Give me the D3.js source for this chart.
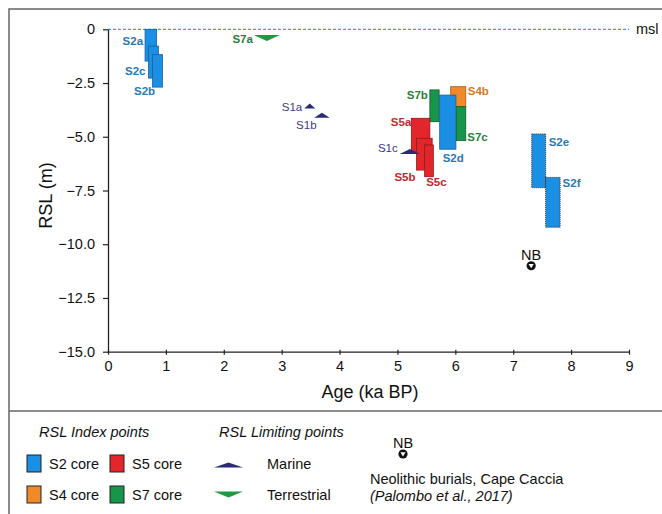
<!DOCTYPE html>
<html>
<head>
<meta charset="utf-8">
<script src="https://cdn.jsdelivr.net/npm/d3@7"></script>
<style>
  html, body { margin: 0; padding: 0; background: #fff; }
  svg { display: block; font-family: "Liberation Sans", Arial, sans-serif; }
</style>
</head>
<body>
<svg id="chart" width="662" height="514"></svg>
<script>
// ---------------- DATA ----------------
// RSL index points (boxes): age range (ka BP) and RSL range (m)
const boxIds       = ["S2a", "S2c", "S2b", "S7b", "S4b", "S2d", "S7c", "S5a", "S5b", "S5c", "S2e", "S2f"];
const boxCores     = ["S2",  "S2",  "S2",  "S7",  "S4",  "S2",  "S7",  "S5",  "S5",  "S5",  "S2",  "S2"];
const boxAgeMin    = [0.64, 0.70, 0.77, 5.56, 5.92, 5.73, 6.02, 5.24, 5.33, 5.47, 7.32, 7.56];
const boxAgeMax    = [0.84, 0.87, 0.94, 5.72, 6.18, 6.01, 6.18, 5.56, 5.60, 5.62, 7.56, 7.81];
const boxRslTop    = [0.00, -0.78, -1.18, -2.82, -2.67, -3.06, -3.60, -4.14, -5.07, -5.38, -4.87, -6.89];
const boxRslBottom = [-1.48, -2.27, -2.69, -4.30, -3.60, -5.58, -5.18, -5.70, -6.55, -6.86, -7.37, -9.21];

// RSL limiting points (triangles)
const limIds    = ["S7a", "S1a", "S1b", "S1c"];
const limTypes  = ["Terrestrial", "Marine", "Marine", "Marine"];
const limAgeMin = [2.52, 3.39, 3.56, 5.04];
const limAgeMax = [2.97, 3.58, 3.83, 5.39];
const limRsl    = [-0.27, -3.68, -4.11, -5.80];

// Neolithic burials, Cape Caccia
const nbAge = [7.31];
const nbRsl = [-11.0];

// Axis ticks
const xTicks = [0, 1, 2, 3, 4, 5, 6, 7, 8, 9];
const yTicks = [0, -2.5, -5.0, -7.5, -10.0, -12.5, -15.0];

// Legend entries
const legendCores = ["S2", "S5", "S4", "S7"];
const legendCoreLabels = ["S2 core", "S5 core", "S4 core", "S7 core"];
const legendLimTypes = ["Marine", "Terrestrial"];

// ---------------- STYLE ----------------
const coreFill   = { S2: "#1a8fe3", S4: "#f0892a", S5: "#e3262b", S7: "#17954a" };
const coreStroke = { S2: "#1b5f9a", S4: "#a85a15", S5: "#8a1a1a", S7: "#0f5e2c" };
const coreText   = { S2: "#2a78b4", S4: "#d77a24", S5: "#c3282d", S7: "#27803c", S1: "#3a3a86" };
const limFill    = { Marine: "#2b2a78", Terrestrial: "#1c9a42" };
const dottedBoxes = new Set(["S2e", "S2f"]);

// label placement relative to the box / triangle (pixel offsets)
const labelLayout = {
  S2a: { xr: "x0", dx: -2,  yr: "y0", dy: 12,  anchor: "end" },
  S2c: { xr: "x0", dx: -3,  yr: "y0", dy: 25,  anchor: "end" },
  S2b: { xr: "x0", dx: 2.5, yr: "y1", dy: 3.5, anchor: "end" },
  S7b: { xr: "x0", dx: -2,  yr: "y0", dy: 5,   anchor: "end" },
  S4b: { xr: "x1", dx: 2,   yr: "y0", dy: 4.5, anchor: "start" },
  S2d: { xr: "x0", dx: 3,   yr: "y1", dy: 9,   anchor: "start" },
  S7c: { xr: "x1", dx: 1.5, yr: "y1", dy: -4,  anchor: "start" },
  S5a: { xr: "x0", dx: 0,   yr: "y0", dy: 4,   anchor: "end" },
  S5b: { xr: "x0", dx: -1,  yr: "y1", dy: 7,   anchor: "end" },
  S5c: { xr: "x0", dx: 1.5, yr: "y1", dy: 5,   anchor: "start" },
  S2e: { xr: "x1", dx: 3,   yr: "y0", dy: 8,   anchor: "start" },
  S2f: { xr: "x1", dx: 2.5, yr: "y0", dy: 6,   anchor: "start" },
  S7a: { xr: "x0", dx: -1,  yr: "y",  dy: 4,   anchor: "end" },
  S1a: { xr: "x0", dx: -2,  yr: "y",  dy: -1.5, anchor: "end" },
  S1b: { xr: "x0", dx: 2.5, yr: "y",  dy: 7,   anchor: "end" },
  S1c: { xr: "x0", dx: -2,  yr: "y",  dy: -5.5, anchor: "end" }
};

// ---------------- CHART ----------------
const svg = d3.select("#chart");

// outer frame
svg.append("path")
  .attr("d", "M9,514 V9 H662")
  .attr("fill", "none").attr("stroke", "#666").attr("stroke-width", 1.5);
svg.append("line")
  .attr("x1", 9).attr("x2", 662).attr("y1", 411).attr("y2", 411)
  .attr("stroke", "#666").attr("stroke-width", 1.5);

const x = d3.scaleLinear().domain([0, 9]).range([108, 629]);
const y = d3.scaleLinear().domain([0, -15]).range([29.3, 351.7]);

// msl line
svg.append("line")
  .attr("x1", x(0)).attr("x2", x(9)).attr("y1", y(0)).attr("y2", y(0))
  .attr("stroke", "#3a9ee0").attr("stroke-width", 1.2).attr("stroke-dasharray", "3,2");
svg.append("text")
  .attr("x", 636).attr("y", y(0)).attr("dy", "0.35em")
  .attr("font-size", 14.5).attr("fill", "#111").text("msl");

// axes
const xAxis = d3.axisBottom(x).tickValues(xTicks).tickFormat(d3.format("d")).tickSizeInner(4).tickSizeOuter(0).tickPadding(5);
const yAxis = d3.axisLeft(y).tickValues(yTicks).tickFormat(d => d === 0 ? "0" : d3.format(".1f")(d)).tickSizeInner(5).tickSizeOuter(0).tickPadding(8);

const gx = svg.append("g").attr("transform", `translate(0,${y(-15)})`).call(xAxis);
const gy = svg.append("g").attr("transform", `translate(${x(0)},0)`).call(yAxis);
[gx, gy].forEach(g => {
  g.select(".domain").attr("stroke", "#222").attr("stroke-width", 1.3);
  g.selectAll(".tick line").attr("stroke", "#222").attr("stroke-width", 1.2);
  g.selectAll(".tick text").attr("font-size", 14.5).attr("fill", "#111")
    .attr("font-family", "'Liberation Sans', Arial, sans-serif");
});
gx.selectAll(".tick line").attr("y1", -2).attr("y2", 3);

// axis titles
svg.append("text")
  .attr("x", 370).attr("y", 392).attr("dy", "0.35em").attr("text-anchor", "middle")
  .attr("font-size", 18).attr("fill", "#111").text("Age (ka BP)");
svg.append("text")
  .attr("transform", `translate(46,${(y(0) + y(-15)) / 2 + 5}) rotate(-90)`)
  .attr("dy", "0.35em").attr("text-anchor", "middle")
  .attr("font-size", 18).attr("fill", "#111").text("RSL (m)");

// boxes
const boxes = boxIds.map((id, i) => ({
  id, core: boxCores[i],
  x0: x(boxAgeMin[i]), x1: x(boxAgeMax[i]),
  y0: y(boxRslTop[i]), y1: y(boxRslBottom[i])
}));

const gBoxes = svg.append("g");
gBoxes.selectAll("rect").data(boxes).join("rect")
  .attr("x", d => d.x0).attr("y", d => d.y0)
  .attr("width", d => d.x1 - d.x0).attr("height", d => d.y1 - d.y0)
  .attr("fill", d => coreFill[d.core])
  .attr("stroke", d => dottedBoxes.has(d.id) ? "#333" : coreStroke[d.core])
  .attr("stroke-width", d => dottedBoxes.has(d.id) ? 1 : 0.8)
  .attr("stroke-dasharray", d => dottedBoxes.has(d.id) ? "1,1" : null);

// limiting points
const lims = limIds.map((id, i) => ({
  id, type: limTypes[i],
  x0: x(limAgeMin[i]), x1: x(limAgeMax[i]), y: y(limRsl[i])
}));
function triPath(d) {
  const mid = (d.x0 + d.x1) / 2;
  const h = d.type === "Marine" ? -5 : 6;
  return `M${d.x0},${d.y} L${d.x1},${d.y} L${mid},${d.y + h} Z`;
}
svg.append("g").selectAll("path").data(lims).join("path")
  .attr("d", triPath)
  .attr("fill", d => limFill[d.type]);

// labels
const allMarks = boxes.concat(lims);
svg.append("g").selectAll("text").data(allMarks).join("text")
  .attr("x", d => d[labelLayout[d.id].xr] + labelLayout[d.id].dx)
  .attr("y", d => d[labelLayout[d.id].yr] + labelLayout[d.id].dy)
  .attr("dy", "0.35em")
  .attr("text-anchor", d => labelLayout[d.id].anchor)
  .attr("font-size", 11.5)
  .attr("font-weight", d => d.id.startsWith("S1") ? "normal" : "bold")
  .attr("fill", d => coreText[d.id.slice(0, 2)])
  .text(d => d.id);

// NB symbol
function nbSymbol(g, cx, cy) {
  g.append("circle").attr("cx", cx).attr("cy", cy).attr("r", 4.6).attr("fill", "#111");
  g.append("path")
    .attr("d", `M${cx - 2.6},${cy - 1.8} L${cx + 2.6},${cy - 1.8} L${cx},${cy + 2.4} Z`)
    .attr("fill", "#fff");
  g.append("text").attr("x", cx).attr("y", cy - 11).attr("dy", "0.35em")
    .attr("text-anchor", "middle").attr("font-size", 14.5).attr("fill", "#111").text("NB");
}
nbAge.forEach((a, i) => nbSymbol(svg.append("g"), x(a), y(nbRsl[i])));

// ---------------- LEGEND ----------------
const leg = svg.append("g").attr("font-size", 14.5).attr("fill", "#111");
leg.append("text").attr("x", 39).attr("y", 432).attr("dy", "0.35em")
  .attr("font-style", "italic").text("RSL Index points");
leg.append("text").attr("x", 219).attr("y", 432).attr("dy", "0.35em")
  .attr("font-style", "italic").text("RSL Limiting points");

legendCores.forEach((c, i) => {
  const col = i % 2, row = Math.floor(i / 2);
  const sx = 27 + col * 83, sy = 455 + row * 31;
  leg.append("rect").attr("x", sx).attr("y", sy).attr("width", 14).attr("height", 17)
    .attr("fill", coreFill[c]).attr("stroke", "#222").attr("stroke-width", 1);
  leg.append("text").attr("x", sx + 22).attr("y", sy + 9).attr("dy", "0.35em")
    .text(legendCoreLabels[i]);
});

legendLimTypes.forEach((t, i) => {
  const cy = 466 + i * 28;
  const d = { type: t, x0: 214, x1: 243, y: t === "Marine" ? cy + 1.5 : cy - 2.5 };
  leg.append("path").attr("d", triPath(d)).attr("fill", limFill[t]);
  leg.append("text").attr("x", 267).attr("y", 464 + i * 31).attr("dy", "0.35em").text(t);
});

nbSymbol(leg.append("g"), 403, 454);
leg.append("text").attr("x", 370).attr("y", 479).attr("dy", "0.35em")
  .text("Neolithic burials, Cape Caccia");
leg.append("text").attr("x", 370).attr("y", 496).attr("dy", "0.35em")
  .attr("font-style", "italic").text("(Palombo et al., 2017)");
</script>
</body>
</html>
